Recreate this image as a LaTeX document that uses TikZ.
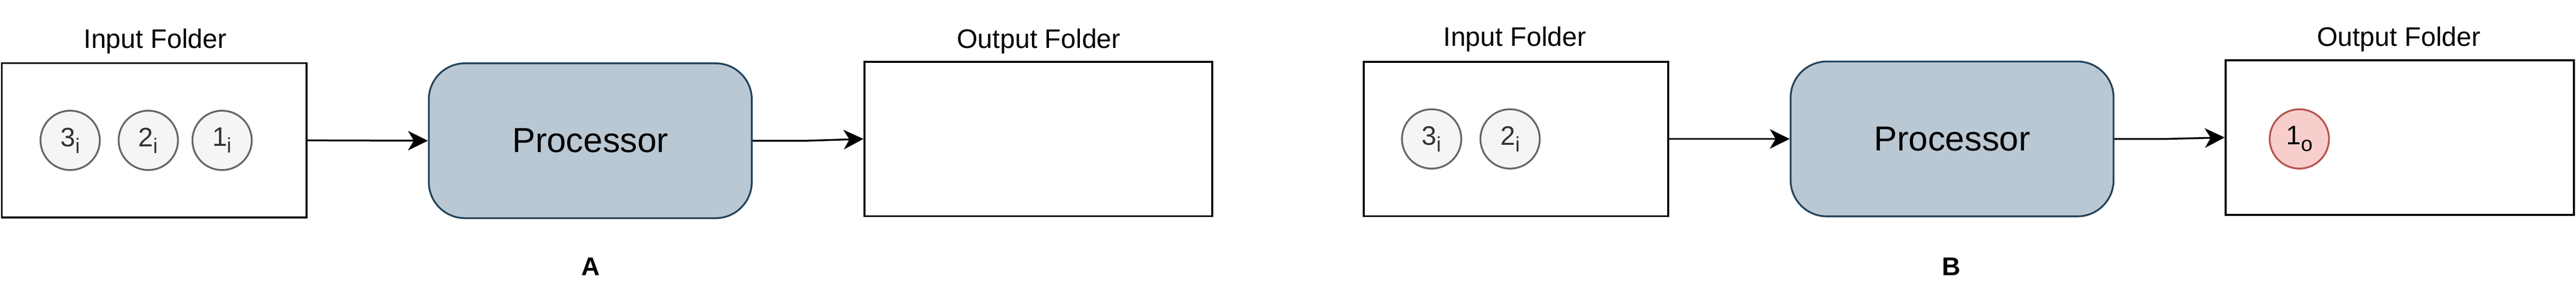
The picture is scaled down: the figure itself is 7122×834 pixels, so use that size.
\documentclass[tikz,border=0pt]{standalone}
\usepackage{fontspec}
\setmainfont{Liberation Sans}
\usetikzlibrary{arrows.meta}
\definecolor{procfill}{HTML}{BAC8D3}
\definecolor{procdraw}{HTML}{23445D}
\definecolor{tokfill}{HTML}{F5F5F5}
\definecolor{tokdraw}{HTML}{666666}
\definecolor{toktext}{HTML}{333333}
\definecolor{outfill}{HTML}{F8CECC}
\definecolor{outdraw}{HTML}{B85450}
\newcommand\toklabel[2]{#1\raisebox{-0.25em}{\fontsize{5.8}{6}\selectfont #2}}
\begin{document}
\begin{tikzpicture}[x=0.1pt,y=-0.1pt,
  folder/.style={draw=black,line width=0.55pt,inner sep=0pt,minimum height=42.7pt},
  proc/.style={draw=procdraw,fill=procfill,line width=0.5pt,rounded corners=10pt,inner sep=0pt,
    minimum width=89.3pt,minimum height=42.8pt,font=\fontsize{9.6}{11}\selectfont},
  token/.style={circle,draw=tokdraw,fill=tokfill,line width=0.5pt,inner sep=0pt,minimum size=16.4pt,
    text=toktext,font=\fontsize{7.4}{8}\selectfont},
  outtoken/.style={token,draw=outdraw,fill=outfill,text=black},
  caption/.style={anchor=base,inner sep=0pt,font=\fontsize{7.4}{8}\selectfont},
  panel/.style={anchor=base,inner sep=0pt,font=\fontsize{7.1}{8}\selectfont\bfseries},
  flow/.style={draw=black,line width=0.5pt,-{Stealth[length=5.5pt,width=5.4pt,inset=1.6pt]}}]
\useasboundingbox (0,0) rectangle (7122,834);
% ---- A ----
\node[folder,minimum width=84.2pt] (inA) at (426,388) {};
\node[proc] (procA) at (1632,389) {Processor};
\node[folder,minimum width=96.2pt] (outA) at (2871,384) {};
\node[caption] (inAlab) at (429,133) {Input Folder};
\node[caption] (outAlab) at (2872,133) {Output Folder};
\node[token] (a3) at (194,388) {\toklabel{3}{i}};
\node[token] (a2) at (410,388) {\toklabel{2}{i}};
\node[token] (a1) at (614,388) {\toklabel{1}{i}};
\node[panel] (labA) at (1633,761) {A};
\draw[flow] (inA.east) -- (procA.west);
\draw[flow] (procA.east) -- ++(150,0) -- (outA.west);
% ---- B ----
\node[folder,minimum width=84.2pt] (inB) at (4191,384) {};
\node[proc] (procB) at (5397,384) {Processor};
\node[folder,minimum width=96.3pt] (outB) at (6635,380) {};
\node[caption] (inBlab) at (4188,128) {Input Folder};
\node[caption] (outBlab) at (6632,128) {Output Folder};
\node[token] (b3) at (3958,384) {\toklabel{3}{i}};
\node[token] (b2) at (4175,384) {\toklabel{2}{i}};
\node[outtoken] (b1) at (6357,384) {\toklabel{1}{o}};
\node[panel] (labB) at (5395,761) {B};
\draw[flow] (inB.east) -- (procB.west);
\draw[flow] (procB.east) -- ++(142,0) -- (outB.west);
\end{tikzpicture}
\end{document}
